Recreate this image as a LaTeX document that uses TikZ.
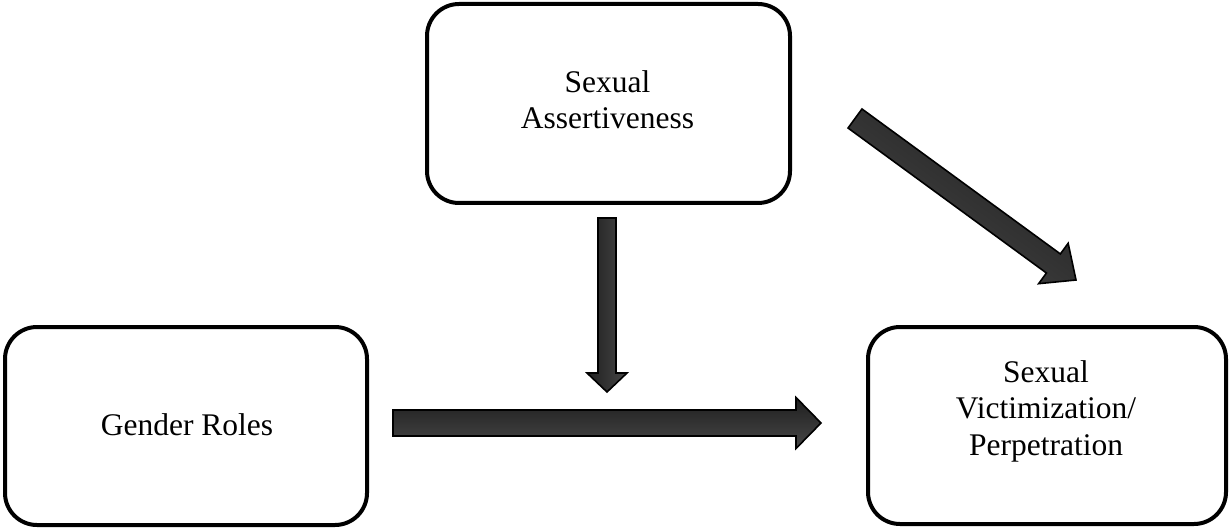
\documentclass[tikz,border=0pt]{standalone}
\usepackage{fontspec}
\setmainfont{Liberation Serif}
\usetikzlibrary{calc}
\tikzset{
  box/.style={draw=black, line width=2pt, rounded corners=16pt, fill=white, inner sep=0pt},
  boxtext/.style={align=center, inner sep=0pt, font=\fontsize{15.75}{18.35}\selectfont},
  blockarrow/.style={draw=black, line width=0.8pt, line join=miter},
}
% #1 options, #2 start, #3 end, #4 shaft half width, #5 head half width, #6 head length
\newcommand{\blockarrowdraw}[6][]{%
  \coordinate (#2-hb) at ($(#3)!#6!(#2)$);
  \shadedraw[blockarrow,#1] ($(#2)!#4!90:(#3)$) -- ($(#2-hb)!#4!90:(#3)$) -- ($(#2-hb)!#5!90:(#3)$) -- (#3)
    -- ($(#2-hb)!#5!-90:(#3)$) -- ($(#2-hb)!#4!-90:(#3)$) -- ($(#2)!#4!-90:(#3)$) -- cycle;}
\begin{document}
\begin{tikzpicture}[x=0.5pt,y=-0.5pt]
\useasboundingbox (0,0) rectangle (1230,529);
% boxes
\node[box, minimum width=181.5pt, minimum height=99.5pt] (A) at (608.5,103.5) {};
\node[box, minimum width=181pt, minimum height=99pt] (B) at (186,426) {};
\node[box, minimum width=179pt, minimum height=98.5pt] (C) at (1047,425.5) {};
% texts
\node[boxtext] (tA) at (607.5,99.6) {Sexual\\Assertiveness};
\node[boxtext] (tB) at (187,425.2) {Gender Roles};
\node[boxtext] (tC) at (1046,411.3) {Sexual\\Victimization/\\Perpetration};
% arrow ends
\coordinate (v1) at (607,218);
\coordinate (v2) at (607,392);
\coordinate (h1) at (393,423);
\coordinate (h2) at (821,423);
\coordinate (d1) at (855,118.5);
\coordinate (d2) at (1076,280);
% arrows
\blockarrowdraw[left color=black!88, right color=black!72]{v1}{v2}{4.5pt}{10pt}{9.5pt}
\blockarrowdraw[top color=black!88, bottom color=black!72]{h1}{h2}{6.5pt}{12.75pt}{12.5pt}
\blockarrowdraw[top color=black!88, bottom color=black!72, shading angle=-36]{d1}{d2}{5.9pt}{12.5pt}{14pt}
\end{tikzpicture}
\end{document}
